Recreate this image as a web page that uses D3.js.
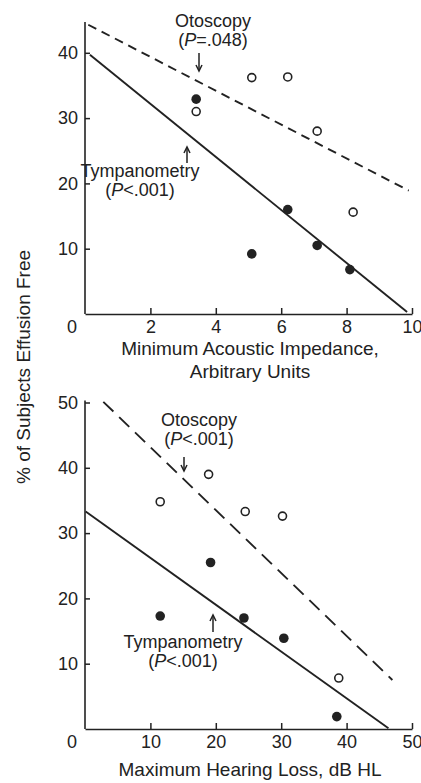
<!DOCTYPE html>
<meta charset="utf-8">
<style>
  body { margin: 0; background: #fff; }
  text { font-family: "Liberation Sans", Arial, sans-serif; fill: #222; }
</style>
<body>
<script src="https://cdn.jsdelivr.net/npm/d3@7"></script>
<script>

// top panel data: minimum acoustic impedance
var impTicks = [2, 4, 6, 8, 10];
var impYTicks = [10, 20, 30, 40];
var impTymp = [[3.4, 32.9], [5.1, 9.2], [6.2, 16.0], [7.1, 10.5], [8.1, 6.8]];
var impOto = [[3.4, 31.0], [5.1, 36.2], [6.2, 36.3], [7.1, 28.0], [8.2, 15.6]];
var impTympLine = [[0.15, 39.7], [9.85, 0.3]];
var impOtoLine = [[0.1, 44.3], [9.9, 18.9]];

// bottom panel data: maximum hearing loss
var hlTicks = [10, 20, 30, 40, 50];
var hlYTicks = [10, 20, 30, 40, 50];
var hlTymp = [[11.5, 17.3], [19.2, 25.5], [24.3, 17.0], [30.4, 13.9], [38.5, 1.9]];
var hlOto = [[11.5, 34.8], [18.9, 39.0], [24.5, 33.3], [30.2, 32.6], [38.8, 7.8]];
var hlTympLine = [[0.1, 33.3], [46.4, 0.1]];
var hlOtoLine = [[2.8, 50.1], [47.0, 7.5]];

var W = 421, H = 783;
var svg = d3.select("body").append("svg")
    .attr("width", W)
    .attr("height", H);

var ink = "#222";

function panel(o) {
    var x = d3.scaleLinear().domain([0, o.xmax]).range([85, 412]);
    var y = d3.scaleLinear().domain([0, o.ymax]).range([o.y0, o.y0 - o.ymax * 6.53]);
    var g = svg.append("g");

    // x axis, ticks point inward
    g.append("g")
        .attr("transform", "translate(0," + o.y0 + ")")
        .call(d3.axisBottom(x).tickValues(o.xticks).tickSizeInner(-6).tickSizeOuter(0).tickPadding(6));
    // y axis, ticks point inward
    var ya = g.append("g")
        .attr("transform", "translate(85,0)")
        .call(d3.axisLeft(y).tickValues(o.yticks).tickSizeInner(-5).tickSizeOuter(0).tickPadding(7));
    g.selectAll(".domain").attr("stroke", ink).attr("stroke-width", 1.6);
    g.selectAll(".tick line").attr("stroke", ink).attr("stroke-width", 1.5);
    g.selectAll(".tick text").style("font-size", "18px").attr("fill", ink);

    // y axis extends to the top of the domain
    ya.select(".domain").attr("d", "M0," + y(o.ytop) + "V" + o.y0);

    // origin label
    g.append("text")
        .attr("x", 72).attr("y", o.y0 + 18.5)
        .attr("text-anchor", "middle")
        .style("font-size", "18px")
        .text("0");

    var line = d3.line().x(function (d) { return x(d[0]); }).y(function (d) { return y(d[1]); });

    g.append("path").datum(o.otoLine)
        .attr("d", line)
        .attr("fill", "none").attr("stroke", ink).attr("stroke-width", 1.9)
        .attr("stroke-dasharray", o.dash);
    g.append("path").datum(o.tympLine)
        .attr("d", line)
        .attr("fill", "none").attr("stroke", ink).attr("stroke-width", 1.9);

    g.selectAll(".oto").data(o.oto).enter().append("circle")
        .attr("cx", function (d) { return x(d[0]); })
        .attr("cy", function (d) { return y(d[1]); })
        .attr("r", 4)
        .attr("fill", "#fff").attr("stroke", ink).attr("stroke-width", 1.6);
    g.selectAll(".tymp").data(o.tymp).enter().append("circle")
        .attr("cx", function (d) { return x(d[0]); })
        .attr("cy", function (d) { return y(d[1]); })
        .attr("r", 4.8)
        .attr("fill", ink);

    // x axis title
    o.xtitle.forEach(function (t, i) {
        g.append("text")
            .attr("x", 250).attr("y", o.y0 + o.tgap + i * 23)
            .attr("text-anchor", "middle")
            .style("font-size", "19px")
            .text(t);
    });

    // annotations
    o.notes.forEach(function (n) {
        g.append("text")
            .attr("x", n.x).attr("y", n.y)
            .attr("text-anchor", "middle")
            .style("font-size", "18px")
            .text(n.name);
        var p = g.append("text")
            .attr("x", n.x).attr("y", n.y + 19)
            .attr("text-anchor", "middle")
            .style("font-size", "18px");
        p.append("tspan").text("(");
        p.append("tspan").style("font-style", "italic").text("P");
        p.append("tspan").text(n.p + ")");
        // arrow
        var a = n.arrow;
        g.append("line")
            .attr("x1", a[0]).attr("y1", a[1]).attr("x2", a[0]).attr("y2", a[2])
            .attr("stroke", ink).attr("stroke-width", 1.5);
        var tip = a[2], dir = a[2] > a[1] ? -1 : 1;
        g.append("path")
            .attr("d", "M" + (a[0] - 3) + "," + (tip + dir * 6) + "L" + a[0] + "," + tip + "L" + (a[0] + 3) + "," + (tip + dir * 6))
            .attr("fill", "none").attr("stroke", ink).attr("stroke-width", 1.5);
    });
}

panel({
    xmax: 10, ymax: 40, ytop: 44.7, y0: 314,
    xticks: impTicks, yticks: impYTicks,
    tymp: impTymp, oto: impOto, tympLine: impTympLine, otoLine: impOtoLine,
    dash: "9,6", tgap: 41,
    xtitle: ["Minimum Acoustic Impedance,", "Arbitrary Units"],
    notes: [
        {name: "Otoscopy", p: "=.048", x: 213, y: 27, arrow: [199, 53, 71]},
        {name: "Tympanometry", p: "<.001", x: 140, y: 177, arrow: [187, 163, 147]}
    ]
});

panel({
    xmax: 50, ymax: 50, ytop: 50.3, y0: 729,
    xticks: hlTicks, yticks: hlYTicks,
    tymp: hlTymp, oto: hlOto, tympLine: hlTympLine, otoLine: hlOtoLine,
    dash: "14,8", tgap: 47,
    xtitle: ["Maximum Hearing Loss, dB HL"],
    notes: [
        {name: "Otoscopy", p: "<.001", x: 199, y: 426, arrow: [184, 457, 471]},
        {name: "Tympanometry", p: "<.001", x: 183, y: 648, arrow: [213, 632, 615]}
    ]
});

// shared y axis title
svg.append("text")
    .attr("transform", "translate(30,367) rotate(-90)")
    .attr("text-anchor", "middle")
    .style("font-size", "19px")
    .text("% of Subjects Effusion Free");

</script>
</body>
